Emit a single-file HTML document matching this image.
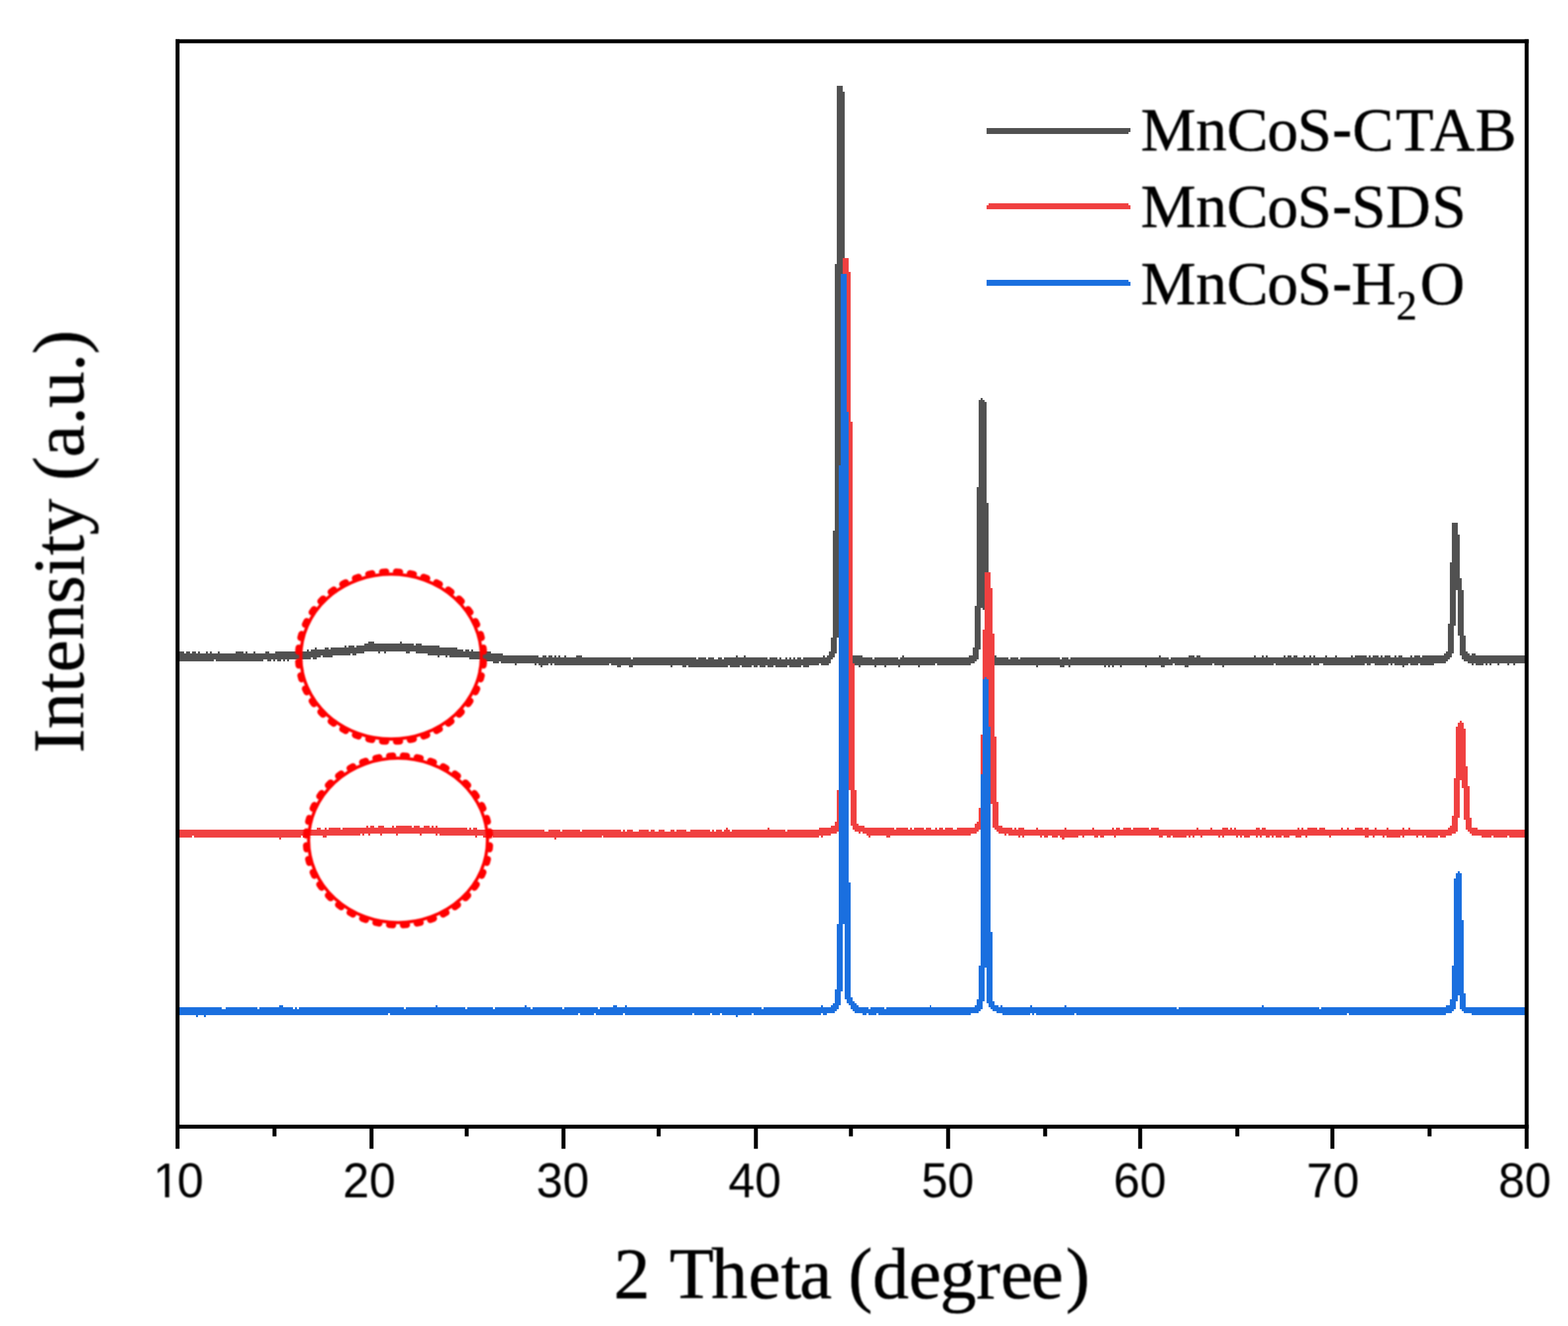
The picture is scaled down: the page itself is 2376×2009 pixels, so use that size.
<!DOCTYPE html>
<html lang="en"><head><meta charset="utf-8"><title>XRD patterns</title>
<style>
html,body{margin:0;padding:0;background:#fff;}
body{width:2376px;height:2009px;overflow:hidden;}
svg{display:block;}
.ser{font-family:"Liberation Serif","Times New Roman",serif;}
.san{font-family:"Liberation Sans",Arial,sans-serif;}
</style></head>
<body>
<svg width="2376" height="2009" viewBox="0 0 2376 2009">
<rect width="2376" height="2009" fill="#fff"/>
<defs><filter id="soft" x="-5%" y="-20%" width="110%" height="140%"><feGaussianBlur stdDeviation="0.8"/></filter><filter id="soft2" x="-5%" y="-5%" width="110%" height="110%"><feGaussianBlur stdDeviation="0.8"/></filter><clipPath id="one"><rect x="220" y="1740" width="100" height="68"/><rect x="250.1" y="1808" width="6.33" height="10"/><rect x="270" y="1808" width="50" height="10"/></clipPath></defs>
<g shape-rendering="crispEdges">
<path fill="#515151" fill-rule="evenodd" d="M1268 130H1277V139H1280V396.6H1283V804.1H1286V962.9H1289V986.9H1292V992.9H1307V995.9H1321.9V998.9H1324.9V995.9H1360.9V998.9H1363.9V995.9H1366.9V992.9H1369.9V995.9H1467.8V992.9H1473.8V980.9H1476.8V918H1479.8V738.2H1482.8V606.4H1485.8V603.4H1488.8V606.4H1491.8V609.4H1494.8V762.2H1497.8V921H1500.8V980.9H1503.8V992.9H1509.8V995.9H1527.8V998.9H1530.8V995.9H1542.8V998.9H1545.8V995.9H1606.4V998.9H1609.4V995.9H1618.5V998.9H1621.6V995.9H1756.4V992.9H1759.4V995.9H1771.4V998.9H1774.4V995.9H1801.3V992.9H1810.3V995.9H1813.3V992.9H1819.3V995.9H1900.2V992.9H1903.2V995.9H1912.2V992.9H1915.2V995.9H1918.2V992.9H1921.2V995.9H1945.1V992.9H1948.1V995.9H1951.1V992.9H1957.1V995.9H1960.1V992.9H1966.1V995.9H1975.1V992.9H1978.1V995.9H1984.1V992.9H1987.1V995.9H1990.1V992.9H1993.1V995.9H2008.1V992.9H2011.1V995.9H2023V992.9H2026V995.9H2047V992.9H2050V995.9H2053V992.9H2071V995.9H2074V992.9H2077V995.9H2080V992.9H2089V995.9H2092V992.9H2095V995.9H2097.9V992.9H2106.9V995.9H2112.9V992.9H2115.9V995.9H2118.9V992.9H2124.9V995.9H2136.9V992.9H2139.9V995.9H2142.9V992.9H2151.9V995.9H2154.9V992.9H2187.8V989.9H2190.8V986.9H2193.8V944.9H2196.8V852.1H2199.8V792.1H2208.8V810.1H2211.8V876H2214.8V894H2217.8V962.9H2220.8V986.9H2223.8V989.9H2226.8V992.9H2229.8V989.9H2235.8V992.9H2313.4V995.9H2313.4V1001.9H2313.4V1004.9H2295.7V1007.9H2292.7V1004.9H2286.7V1007.9H2283.7V1004.9H2271.7V1007.9H2268.7V1004.9H2259.7V1007.9H2256.7V1004.9H2253.7V1007.9H2250.8V1004.9H2247.8V1007.9H2235.8V1004.9H2232.8V1007.9H2229.8V1004.9H2223.8V1001.9H2217.8V998.9H2214.8V992.9H2211.8V962.9H2208.8V894H2205.8V947.9H2202.8V989.9H2199.8V995.9H2196.8V998.9H2193.8V1001.9H2190.8V1004.9H2172.9V1007.9H2151.9V1004.9H2148.9V1007.9H2136.9V1004.9H2133.9V1007.9H2127.9V1010.9H2124.9V1007.9H2112.9V1004.9H2109.9V1007.9H2106.9V1004.9H2103.9V1007.9H2083V1004.9H2077V1007.9H2071V1004.9H2068V1007.9H2005.1V1004.9H1999.1V1007.9H1990.1V1004.9H1987.1V1007.9H1933.2V1004.9H1930.2V1007.9H1855.3V1010.9H1852.3V1007.9H1840.3V1004.9H1837.3V1007.9H1801.3V1010.9H1795.3V1007.9H1780.4V1004.9H1777.4V1007.9H1765.4V1010.9H1759.4V1007.9H1738.4V1010.9H1735.4V1007.9H1699.5V1010.9H1696.5V1007.9H1687.5V1010.9H1684.5V1007.9H1681.5V1010.9H1678.5V1007.9H1675.5V1010.9H1672.5V1007.9H1621.6V1010.9H1618.5V1007.9H1612.5V1010.9H1606.4V1007.9H1573.1V1010.9H1570.1V1007.9H1506.8V1004.9H1500.8V1001.9H1497.8V998.9H1494.8V983.9H1491.8V924H1488.8V921H1485.8V983.9H1482.8V998.9H1479.8V1001.9H1476.8V1004.9H1470.8V1007.9H1420.3V1004.9H1417.3V1007.9H1393.7V1010.9H1390.7V1007.9H1363.9V1010.9H1360.9V1007.9H1342.9V1010.9H1339.9V1007.9H1327.9V1010.9H1324.9V1007.9H1304V1010.9H1301V1007.9H1295V1004.9H1292V1001.9H1286V998.9H1283V989.9H1280V965.9H1277V807.1H1274V804.1H1271V965.9H1268V989.9H1265V995.9H1262V998.9H1259V1004.9H1256V1007.9H1244V1004.9H1241V1007.9H1226.1V1010.9H1217.1V1007.9H1214.1V1010.9H1196.1V1007.9H1193.1V1010.9H1175.1V1007.9H1172.1V1010.9H1163.1V1007.9H1160.1V1010.9H1151.1V1007.9H1148.2V1010.9H1142.2V1007.9H1139.2V1010.9H1124.2V1007.9H1121.2V1010.9H1106.2V1007.9H1103.2V1010.9H1043.3V1007.9H1040.3V1010.9H1034.3V1007.9H1019.3V1010.9H1016.3V1007.9H959.4V1010.9H953.4V1007.9H941.4V1010.9H935.4V1007.9H926.4V1004.9H923.4V1007.9H839.5V1004.9H836.5V1007.9H833.6V1004.9H830.6V1007.9H821.6V1010.9H818.6V1007.9H815.6V1004.9H812.6V1007.9H809.6V1004.9H782.6V1007.9H779.6V1004.9H758.6V1001.9H755.6V1004.9H746.7V1001.9H731.7V998.9H710.7V995.9H680.7V992.9H677.7V995.9H674.8V992.9H665.8V995.9H662.8V992.9H647.8V989.9H629.8V986.9H620.8V989.9H614.8V986.9H584.9V989.9H581.9V986.9H575.9V989.9H572.9V986.9H551.9V989.9H539.9V992.9H533.9V989.9H530.9V992.9H504V995.9H489V992.9H486V995.9H480V998.9H474V995.9H471V998.9H438.1V1001.9H435.1V998.9H432.1V1001.9H429.1V998.9H426.1V1001.9H420.1V998.9H417.1V1001.9H414.1V998.9H411.1V1001.9H405.1V998.9H399.1V1001.9H327.2V998.9H324.2V1001.9H270.3V998.9H269V986.9H279.3V989.9H282.3V986.9H288.2V989.9H291.2V986.9H297.2V989.9H300.2V986.9H303.2V989.9H312.2V986.9H315.2V989.9H318.2V986.9H321.2V989.9H330.2V986.9H333.2V989.9H357.2V986.9H369.1V989.9H372.1V986.9H375.1V989.9H384.1V986.9H387.1V989.9H402.1V986.9H408.1V989.9H417.1V986.9H465V983.9H468V986.9H471V983.9H477V980.9H480V983.9H492V980.9H498V983.9H501V980.9H521.9V977.9H524.9V980.9H527.9V977.9H536.9V980.9H539.9V977.9H551.9V974.9H557.9V971.9H566.9V974.9H605.8V971.9H608.8V974.9H626.8V977.9H629.8V974.9H638.8V977.9H665.8V980.9H692.7V983.9H701.7V986.9H704.7V983.9H710.7V986.9H713.7V983.9H716.7V986.9H731.7V989.9H734.7V986.9H743.7V989.9H761.6V992.9H815.6V995.9H821.6V992.9H827.6V995.9H830.6V992.9H836.5V995.9H839.5V992.9H842.5V995.9H845.5V992.9H848.5V995.9H854.5V992.9H857.5V995.9H872.5V992.9H881.5V995.9H956.4V998.9H959.4V995.9H1055.3V998.9H1058.3V995.9H1070.3V998.9H1073.2V995.9H1082.2V998.9H1088.2V995.9H1094.2V998.9H1097.2V995.9H1115.2V992.9H1118.2V995.9H1127.2V992.9H1130.2V995.9H1163.1V998.9H1166.1V995.9H1178.1V998.9H1181.1V995.9H1184.1V998.9H1190.1V995.9H1193.1V998.9H1196.1V995.9H1199.1V998.9H1202.1V995.9H1205.1V998.9H1208.1V995.9H1214.1V998.9H1217.1V995.9H1247V992.9H1250V995.9H1253V992.9H1256V986.9H1259V965.9H1262V804.1H1265V399.6H1268ZM2313.4 989.9H2313.4V995.9H2313.4Z"/>
<path fill="#f04040" fill-rule="evenodd" d="M1277 390.6H1286V411.6H1289V639.3H1292V1004.9H1295V1196.6H1298V1247.6H1301V1250.5H1309.9V1253.5H1354.9V1256.5H1357.9V1253.5H1375.9V1256.5H1378.9V1253.5H1381.8V1256.5H1384.8V1253.5H1399.6V1256.5H1402.5V1253.5H1411.4V1256.5H1417.3V1253.5H1420.3V1256.5H1423.2V1253.5H1429.2V1256.5H1432.1V1253.5H1443.9V1256.5H1449.9V1253.5H1476.8V1247.6H1479.8V1244.6H1482.8V1223.6H1485.8V1112.7H1488.8V953.9H1491.8V867H1500.8V891H1503.8V959.9H1506.8V1115.7H1509.8V1214.6H1512.8V1250.5H1518.8V1253.5H1533.8V1256.5H1536.8V1253.5H1539.8V1256.5H1542.8V1253.5H1551.9V1256.5H1570.1V1253.5H1573.1V1256.5H1612.5V1253.5H1615.5V1256.5H1654.5V1253.5H1657.5V1256.5H1684.5V1253.5H1687.5V1256.5H1690.5V1253.5H1696.5V1256.5H1702.4V1253.5H1714.4V1256.5H1717.4V1253.5H1741.4V1256.5H1744.4V1253.5H1756.4V1256.5H1813.3V1253.5H1816.3V1256.5H1834.3V1253.5H1837.3V1256.5H1852.3V1253.5H1861.2V1256.5H1864.2V1253.5H1867.2V1256.5H1870.2V1253.5H1873.2V1256.5H1903.2V1253.5H1909.2V1256.5H1912.2V1253.5H1918.2V1256.5H1966.1V1253.5H1969.1V1256.5H1972.1V1253.5H1975.1V1256.5H1981.1V1253.5H1996.1V1256.5H1999.1V1253.5H2008.1V1256.5H2032V1253.5H2035V1256.5H2041V1253.5H2044V1256.5H2053V1253.5H2065V1256.5H2068V1253.5H2074V1256.5H2083V1253.5H2086V1256.5H2100.9V1253.5H2103.9V1256.5H2124.9V1253.5H2127.9V1256.5H2133.9V1253.5H2136.9V1256.5H2193.8V1253.5H2196.8V1250.5H2199.8V1235.6H2202.8V1178.6H2205.8V1100.7H2208.8V1094.7H2211.8V1091.8H2214.8V1094.7H2217.8V1103.7H2220.8V1160.7H2223.8V1190.6H2226.8V1238.6H2229.8V1253.5H2238.8V1256.5H2313.4V1259.5H2313.4V1262.5H2313.4V1265.5H2313.4V1268.5H2286.7V1265.5H2283.7V1268.5H2262.7V1265.5H2259.7V1268.5H2244.8V1265.5H2229.8V1262.5H2226.8V1259.5H2223.8V1256.5H2220.8V1241.6H2217.8V1193.6H2214.8V1181.6H2211.8V1238.6H2208.8V1259.5H2205.8V1262.5H2199.8V1265.5H2190.8V1268.5H2181.8V1265.5H2178.8V1268.5H2160.9V1265.5H2157.9V1268.5H2154.9V1265.5H2148.9V1268.5H2145.9V1265.5H2127.9V1268.5H2124.9V1265.5H2121.9V1268.5H2100.9V1265.5H2097.9V1268.5H2095V1265.5H2083V1268.5H2080V1265.5H2074V1268.5H2068V1265.5H2017V1268.5H2014.1V1265.5H1981.1V1268.5H1978.1V1265.5H1972.1V1268.5H1963.1V1265.5H1954.1V1268.5H1945.1V1265.5H1942.1V1268.5H1933.2V1265.5H1930.2V1268.5H1927.2V1265.5H1924.2V1268.5H1918.2V1265.5H1912.2V1268.5H1909.2V1265.5H1906.2V1268.5H1903.2V1265.5H1894.2V1268.5H1885.2V1265.5H1882.2V1268.5H1879.2V1265.5H1876.2V1268.5H1873.2V1265.5H1855.3V1268.5H1852.3V1265.5H1849.3V1268.5H1846.3V1265.5H1822.3V1268.5H1819.3V1265.5H1810.3V1268.5H1807.3V1265.5H1804.3V1268.5H1801.3V1265.5H1798.3V1268.5H1777.4V1265.5H1774.4V1268.5H1768.4V1265.5H1762.4V1268.5H1756.4V1265.5H1690.5V1268.5H1687.5V1265.5H1672.5V1268.5H1666.5V1265.5H1663.5V1268.5H1657.5V1265.5H1642.5V1268.5H1639.5V1265.5H1633.5V1268.5H1612.5V1271.5H1609.4V1268.5H1606.4V1265.5H1603.4V1268.5H1594.3V1265.5H1588.2V1268.5H1582.2V1265.5H1579.2V1268.5H1576.1V1265.5H1551.9V1268.5H1548.9V1265.5H1545.8V1268.5H1542.8V1265.5H1527.8V1262.5H1524.8V1265.5H1521.8V1262.5H1512.8V1259.5H1509.8V1256.5H1506.8V1253.5H1503.8V1217.6H1500.8V1118.7H1497.8V1115.7H1494.8V1226.6H1491.8V1253.5H1488.8V1256.5H1482.8V1259.5H1479.8V1262.5H1470.8V1265.5H1348.9V1268.5H1342.9V1265.5H1318.9V1268.5H1315.9V1265.5H1312.9V1262.5H1307V1259.5H1304V1262.5H1301V1259.5H1295V1256.5H1292V1250.5H1289V1196.6H1286V1004.9H1283V995.9H1280V1196.6H1277V1247.6H1274V1256.5H1271V1259.5H1268V1262.5H1259V1265.5H1247V1268.5H1244V1265.5H1241V1268.5H914.4V1265.5H911.5V1268.5H842.5V1271.5H839.5V1268.5H746.7V1265.5H740.7V1268.5H731.7V1265.5H722.7V1268.5H719.7V1265.5H665.8V1262.5H662.8V1265.5H659.8V1262.5H638.8V1265.5H635.8V1262.5H602.8V1265.5H599.8V1262.5H578.9V1265.5H575.9V1262.5H560.9V1265.5H557.9V1262.5H551.9V1265.5H548.9V1262.5H545.9V1265.5H495V1268.5H489V1265.5H468V1268.5H459V1265.5H456V1268.5H426.1V1271.5H423.1V1268.5H294.2V1265.5H291.2V1268.5H270.3V1265.5H269V1256.5H480V1253.5H486V1256.5H492V1253.5H495V1256.5H498V1253.5H516V1256.5H518.9V1253.5H554.9V1250.5H557.9V1253.5H560.9V1250.5H566.9V1253.5H572.9V1250.5H581.9V1253.5H593.9V1250.5H596.9V1253.5H599.8V1250.5H623.8V1253.5H626.8V1250.5H635.8V1253.5H641.8V1250.5H650.8V1253.5H653.8V1250.5H656.8V1253.5H659.8V1250.5H662.8V1253.5H707.7V1256.5H710.7V1253.5H713.7V1256.5H716.7V1253.5H722.7V1256.5H824.6V1259.5H830.6V1256.5H848.5V1259.5H851.5V1256.5H878.5V1259.5H881.5V1256.5H941.4V1259.5H944.4V1256.5H947.4V1259.5H950.4V1256.5H959.4V1259.5H968.4V1256.5H983.4V1259.5H986.4V1256.5H992.3V1259.5H998.3V1256.5H1007.3V1259.5H1016.3V1256.5H1022.3V1259.5H1025.3V1256.5H1040.3V1259.5H1046.3V1256.5H1076.2V1259.5H1079.2V1256.5H1082.2V1259.5H1085.2V1256.5H1094.2V1259.5H1097.2V1256.5H1100.2V1253.5H1103.2V1256.5H1106.2V1259.5H1109.2V1256.5H1163.1V1253.5H1166.1V1256.5H1190.1V1259.5H1193.1V1256.5H1241V1253.5H1259V1250.5H1265V1244.6H1268V1196.6H1271V995.9H1274V636.3H1277Z"/>
<path fill="#1a6fdf" fill-rule="evenodd" d="M1274 414.6H1283V624.3H1286V1337.4H1289V1511.2H1292V1517.2H1295V1520.2H1298V1523.2H1301V1526.2H1315.9V1529.2H1318.9V1526.2H1339.9V1529.2H1342.9V1526.2H1408.5V1523.2H1411.4V1526.2H1476.8V1523.2H1479.8V1514.2H1482.8V1463.3H1485.8V1172.6H1488.8V1028.8H1491.8V1025.8H1494.8V1028.8H1497.8V1100.7H1500.8V1412.3H1503.8V1517.2H1506.8V1523.2H1512.8V1526.2H1515.8V1523.2H1518.8V1526.2H1561V1523.2H1564V1526.2H1612.5V1523.2H1615.5V1526.2H1783.3V1529.2H1786.3V1526.2H1912.2V1523.2H1915.2V1526.2H1999.1V1529.2H2002.1V1526.2H2190.8V1523.2H2196.8V1514.2H2199.8V1463.3H2202.8V1331.4H2205.8V1322.5H2208.8V1319.5H2211.8V1322.5H2214.8V1394.4H2217.8V1505.2H2220.8V1526.2H2313.4V1529.2H2313.4V1532.2H2313.4V1535.2H2313.4V1538.2H2229.8V1535.2H2217.8V1532.2H2214.8V1529.2H2211.8V1508.2H2208.8V1517.2H2205.8V1529.2H2202.8V1532.2H2199.8V1535.2H2190.8V1538.2H2044V1535.2H2041V1538.2H1630.5V1535.2H1627.5V1538.2H1570.1V1535.2H1567V1538.2H1564V1535.2H1561V1538.2H1518.8V1535.2H1509.8V1532.2H1503.8V1529.2H1500.8V1526.2H1497.8V1520.2H1494.8V1466.3H1491.8V1517.2H1488.8V1529.2H1485.8V1532.2H1482.8V1535.2H1470.8V1538.2H1330.9V1535.2H1327.9V1538.2H1315.9V1535.2H1312.9V1538.2H1307V1535.2H1295V1532.2H1292V1529.2H1289V1523.2H1286V1520.2H1283V1514.2H1280V1400.4H1277V1502.2H1274V1523.2H1271V1529.2H1268V1532.2H1265V1535.2H1253V1538.2H1247V1535.2H1244V1538.2H1142.2V1535.2H1139.2V1538.2H1118.2V1541.2H1115.2V1538.2H1094.2V1535.2H1091.2V1538.2H1079.2V1535.2H1076.2V1538.2H1052.3V1535.2H1049.3V1538.2H947.4V1535.2H944.4V1538.2H902.5V1535.2H899.5V1538.2H878.5V1535.2H875.5V1538.2H590.9V1535.2H587.9V1538.2H312.2V1541.2H309.2V1538.2H300.2V1541.2H297.2V1538.2H270.3V1535.2H269V1526.2H336.2V1529.2H342.2V1526.2H390.1V1529.2H393.1V1526.2H423.1V1523.2H429.1V1526.2H444V1529.2H447V1526.2H450V1529.2H453V1526.2H611.8V1529.2H614.8V1526.2H659.8V1523.2H662.8V1526.2H704.7V1529.2H707.7V1526.2H746.7V1529.2H749.7V1526.2H794.6V1523.2H797.6V1526.2H803.6V1529.2H806.6V1526.2H851.5V1529.2H854.5V1526.2H905.5V1529.2H908.5V1526.2H929.4V1523.2H935.4V1526.2H947.4V1523.2H950.4V1526.2H1154.1V1529.2H1157.1V1526.2H1244V1523.2H1247V1526.2H1259V1523.2H1262V1520.2H1265V1499.2H1268V1400.4H1271V705.2H1274Z"/>
</g>
<g fill="none" stroke="#ff0000" filter="url(#soft2)">
<ellipse cx="592.6" cy="994.85" rx="136.8" ry="124.9" stroke-width="4.8"/>
<ellipse cx="592.6" cy="994.85" rx="140.7" ry="128.8" stroke-width="9.8" stroke-linecap="round" pathLength="40" stroke-dasharray="0.27 0.73" stroke-dashoffset="-0.365"/>
</g>
<g fill="none" stroke="#ff0000" filter="url(#soft2)">
<ellipse cx="603.15" cy="1273.25" rx="135.5" ry="124.6" stroke-width="4.8"/>
<ellipse cx="603.15" cy="1273.25" rx="139.4" ry="128.5" stroke-width="9.8" stroke-linecap="round" pathLength="40" stroke-dasharray="0.27 0.73" stroke-dashoffset="-0.365"/>
</g>
<g fill="#000">
<rect x="266.0" y="59.5" width="2050.4" height="6.0"/>
<rect x="266.0" y="1704.0" width="2050.4" height="6.0"/>
<rect x="266.0" y="59.5" width="6.0" height="1650.5"/>
<rect x="2310.4" y="59.5" width="6.0" height="1650.5"/>
<rect x="266" y="1710.0" width="6" height="30.5"/>
<rect x="412.9" y="1710.0" width="6" height="11.7"/>
<rect x="559.9" y="1710.0" width="6" height="30.5"/>
<rect x="704.2" y="1710.0" width="6" height="11.7"/>
<rect x="850.8" y="1710.0" width="6" height="30.5"/>
<rect x="995.1" y="1710.0" width="6" height="11.7"/>
<rect x="1142.4" y="1710.0" width="6" height="30.5"/>
<rect x="1286.4" y="1710.0" width="6" height="11.7"/>
<rect x="1433.7" y="1710.0" width="6" height="30.5"/>
<rect x="1580.7" y="1710.0" width="6" height="11.7"/>
<rect x="1724.7" y="1710.0" width="6" height="30.5"/>
<rect x="1871.9" y="1710.0" width="6" height="11.7"/>
<rect x="2016" y="1710.0" width="6" height="30.5"/>
<rect x="2163.2" y="1710.0" width="6" height="11.7"/>
<rect x="2310.4" y="1710.0" width="6" height="30.5"/>
</g>
<g class="san" font-size="74.5" text-anchor="middle" fill="#000" filter="url(#soft)">
<g clip-path="url(#one)"><text transform="translate(266.8 1814.3) scale(0.965 1)" dx="3.5 -3.5">10</text></g>
<text transform="translate(559.4 1814.3) scale(0.965 1)">20</text>
<text transform="translate(852.8 1814.3) scale(0.965 1)">30</text>
<text transform="translate(1143.7 1814.3) scale(0.965 1)">40</text>
<text transform="translate(1436.1 1814.3) scale(0.965 1)">50</text>
<text transform="translate(1727.3 1814.3) scale(0.965 1)">60</text>
<text transform="translate(2019.7 1814.3) scale(0.965 1)">70</text>
<text transform="translate(2310.5 1814.3) scale(0.965 1)">80</text>
</g>
<text class="ser" font-size="110" text-anchor="middle" x="1290.2" y="1966.5" dx="0.5 0 4 -4 1.4 0.7 -2.4 0 -2.5 0 0 -1.7 0 0.6 -3 3.6" stroke="#000" stroke-width="0.7" filter="url(#soft)">2 Theta (degree)</text>
<text class="ser" font-size="110" text-anchor="middle" transform="translate(126.3 820.5) rotate(-90)" dx="0 0 0 0 0 0 0 0 0 0 0 -1 0 -1.5 0 -1.5" stroke="#000" stroke-width="0.7" filter="url(#soft)">Intensity (a.u.)</text>
<path d="M1495 194.4H1712.5V200.4H1709.5V203.4H1495Z" fill="#515151" shape-rendering="crispEdges"/>
<text class="ser" font-size="94" stroke="#000" stroke-width="0.6" x="1728.4" y="228" dx="0 0 0 -1.5 -1.5 0 0 3 2 0.5" filter="url(#soft)">MnCoS<tspan class="san">-</tspan>CTAB</text>
<path d="M1498 307.7H1709.5V310.7H1712.5V316.7H1495V310.7H1498Z" fill="#f04040" shape-rendering="crispEdges"/>
<text class="ser" font-size="94" stroke="#000" stroke-width="0.6" x="1728.4" y="344" dx="0 0 0 -1.5 -1.5 0 -1.5 0 1.5" filter="url(#soft)">MnCoS<tspan class="san">-</tspan>SDS</text>
<path d="M1495 424H1709.5V427H1712.5V433H1495Z" fill="#1a6fdf" shape-rendering="crispEdges"/>
<text class="ser" font-size="94" stroke="#000" stroke-width="0.6" x="1728.4" y="460.5" dx="0 0 0 -1.5 -1.5 0 -1.5 0 4.5" filter="url(#soft)">MnCoS<tspan class="san">-</tspan>H<tspan font-size="63" dy="23.5">2</tspan><tspan dy="-23.5">O</tspan></text>
</svg>
</body></html>
